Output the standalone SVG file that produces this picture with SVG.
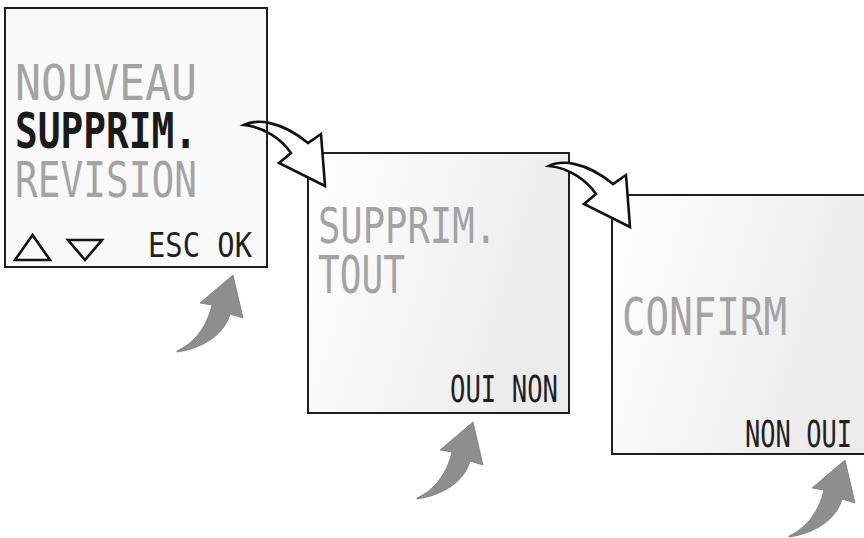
<svg xmlns="http://www.w3.org/2000/svg" width="864" height="538" viewBox="0 0 864 538">
<style>
.frame{stroke:#1e1e1e;stroke-width:2}
.lcd{font-family:"DejaVu Sans Mono","Liberation Mono",monospace;}
.dim{fill:#a3a3a3}
.on{fill:#1a1a1a;font-weight:bold}
.soft{fill:#1f1f1f}
.flow{fill:#fff;stroke:#111;stroke-width:2.6;stroke-linejoin:miter}
.press{fill:#8e8e8e;stroke:#7a7a7a;stroke-width:0.8}
</style>
<defs>
<linearGradient id="bg" x1="0" y1="0" x2="1" y2="0.3">
<stop offset="0" stop-color="#ffffff"/>
<stop offset="1" stop-color="#ebebeb"/>
</linearGradient>
<path id="flowArrow" d="M244,125 C256,119 280,120 308,143 L321,134 L325,186 L279,163 L291,153 C282,140 265,127 244,125 Z"/>
<path id="pressArrow" d="M177,351 C192,344 206,330 212,305 L200,303 L233,275 L243,318 L230,314 C225,333 205,348 177,352 Z"/>
</defs>
<rect width="864" height="538" fill="#fff"/>

<g id="screen-confirm">
<path d="M864,195 L612,195 L612,454 L864,454 Z" fill="url(#bg)" stroke="none"/>
<path class="frame" fill="none" d="M866,195 L612,195 L612,454 L866,454"/>
<text class="lcd dim" x="622" y="335" font-size="52" textLength="165" lengthAdjust="spacingAndGlyphs">CONFIRM</text>
<text class="lcd soft" x="745" y="447" font-size="37" textLength="107" lengthAdjust="spacingAndGlyphs">NON OUI</text>
</g>

<g id="screen-suppr-tout">
<rect class="frame" x="308" y="153" width="261" height="260" fill="url(#bg)"/>
<text class="lcd dim" transform="translate(318,243) scale(1,1.2)" font-size="41" textLength="179" lengthAdjust="spacingAndGlyphs">SUPPRIM.</text>
<text class="lcd dim" transform="translate(318,293) scale(1,1.2)" font-size="43" textLength="87" lengthAdjust="spacingAndGlyphs">TOUT</text>
<text class="lcd soft" x="450" y="402" font-size="37" textLength="108" lengthAdjust="spacingAndGlyphs">OUI NON</text>
</g>

<g id="connectors">
<use href="#flowArrow" class="flow"/>
<use href="#flowArrow" class="flow" transform="translate(305,41)"/>
</g>

<g id="press-arrows">
<use href="#pressArrow" class="press"/>
<use href="#pressArrow" class="press" transform="translate(240,147)"/>
<use href="#pressArrow" class="press" transform="translate(612,185)"/>
</g>

<g id="screen-menu">
<rect class="frame" x="5" y="8" width="262" height="259" fill="#000" fill-opacity="0.025"/>
<text class="lcd dim" transform="translate(15,100) scale(1,1.2)" font-size="42" textLength="182" lengthAdjust="spacingAndGlyphs">NOUVEAU</text>
<text class="lcd on" transform="translate(15,148) scale(1,1.2)" font-size="42" textLength="182" lengthAdjust="spacingAndGlyphs">SUPPRIM.</text>
<text class="lcd dim" transform="translate(15,197) scale(1,1.2)" font-size="42" textLength="182" lengthAdjust="spacingAndGlyphs">REVISION</text>
<polygon points="15,260 50,260 32.5,235" fill="none" stroke="#111" stroke-width="2.6" stroke-linejoin="miter"/>
<polygon points="68,240 102,240 85,260" fill="none" stroke="#111" stroke-width="2.6" stroke-linejoin="miter"/>
<text class="lcd soft" x="148" y="257" font-size="33" textLength="104" lengthAdjust="spacingAndGlyphs">ESC OK</text>
</g>
</svg>
